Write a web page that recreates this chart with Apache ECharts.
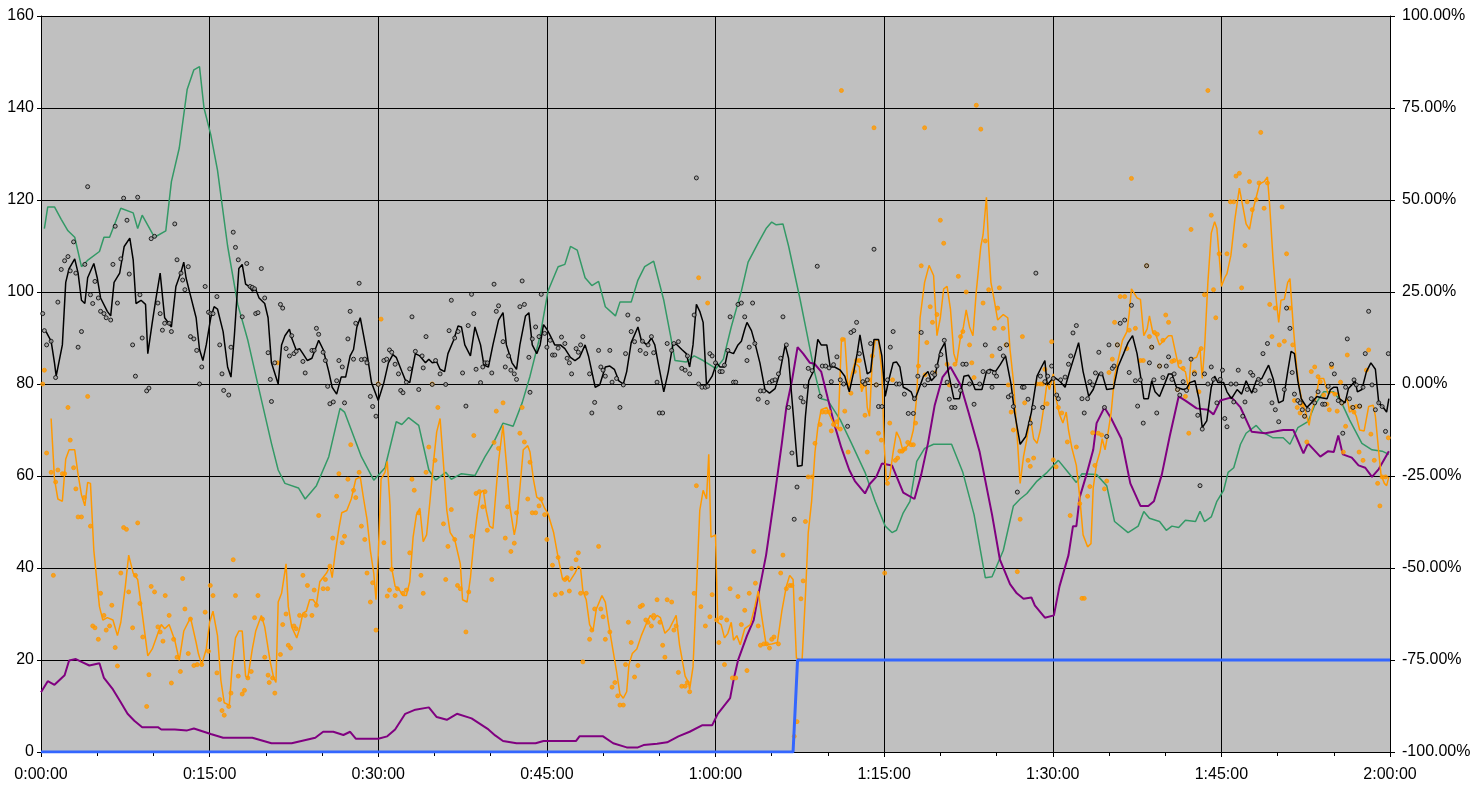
<!DOCTYPE html>
<html>
<head>
<meta charset="utf-8">
<script src="https://cdn.jsdelivr.net/npm/echarts@6/dist/echarts.min.js"></script>
<style>
  html, body { margin: 0; padding: 0; background: #fff; }
  #chart { width: 1478px; height: 793px; }
</style>
</head>
<body>
<div id="chart"></div>
<script>
// time in minutes, values on the left axis (0-160)
const greenLine = [[0.3,113.8],[0.6,118.5],[1.2,118.5],[1.8,115.8],[2.4,113.3],[3.0,111.9],[3.6,105.5],[4.2,107],[5.2,108.8],[5.6,111.9],[6.1,111.9],[7.1,118.2],[8.2,117.2],[8.6,113.8],[9.0,116.7],[10.1,111.9],[11.1,113.3],[11.6,124],[12.3,131.3],[13.0,144],[13.6,148.3],[14.1,149],[14.5,140],[15.1,134.2],[15.7,126.5],[16.6,110],[17.5,97.3],[18.4,89.5],[19.3,79.8],[20.5,67.1],[21.1,61.3],[21.7,58.4],[22.9,57.4],[23.5,55],[24.5,57.9],[25.6,64.2],[26.6,74.7],[27.0,73.9],[28.5,64.2],[29.6,59.1],[30.6,61.8],[31.6,71.8],[32.1,71.2],[32.7,72.7],[33.6,71],[34.5,61.3],[35.1,59.1],[36.0,60.8],[36.5,59.3],[37.4,60.5],[38.6,60.1],[39.5,64.2],[40.2,67],[41.1,71.5],[42.0,70.8],[42.8,75.9],[43.5,81.7],[44.4,90.5],[45.1,100.2],[46.0,105.5],[46.6,106],[47.1,109.9],[47.7,109.1],[48.4,103.1],[49.0,101.4],[49.6,102.3],[50.2,96.8],[51.1,94.8],[51.5,97.8],[52.5,97.8],[53.1,102.6],[53.7,105.5],[54.5,106.7],[55.4,98.2],[56.0,90.5],[56.4,85.1],[57.4,84.8],[58.1,86.1],[58.9,85.1],[59.8,83.7],[60.0,83.2],[60.7,85.4],[61.4,92.4],[62.3,100.2],[62.9,106.5],[63.8,110.7],[64.5,113.8],[65.0,115.2],[65.4,114.6],[66.0,114.8],[66.5,110],[67.5,98.7],[68.1,91.4],[68.8,82.7],[69.4,76.8],[70.0,76.4],[71.1,72.2],[72.1,67.1],[73.3,60.8],[74.2,54.5],[75.1,49.1],[75.7,47.7],[76.1,48.2],[76.7,52],[77.3,54.5],[77.9,63.2],[78.6,66],[79.4,66.9],[81.0,66.9],[82.0,60.8],[83.0,51.6],[84.0,37.9],[84.6,38.1],[85.6,43.8],[86.5,53.5],[87.1,55],[87.7,56.2],[88.6,58.9],[89.5,60.8],[90.5,63.4],[91.2,61.3],[92.1,58.6],[92.6,60.5],[93.9,60.3],[94.8,57.9],[95.5,50.1],[96.7,47.7],[97.6,49.1],[98.1,52.3],[98.6,50.8],[99.5,50.1],[100.1,48.2],[100.6,49.1],[101.2,48.8],[101.8,50.4],[102.7,50.1],[103.1,52.3],[103.5,50.1],[104.1,51.1],[104.6,54.5],[105.2,56.9],[105.6,60.8],[106.1,61.8],[106.7,66.9],[107.2,69.3],[108.1,71],[108.6,69.6],[109.6,68.3],[110.5,68.3],[111.1,66.9],[111.8,70.5],[112.7,71.8],[113.3,75.4],[114.1,78.3],[115.0,78.3],[115.7,75.9],[116.4,72.2],[117.5,67.1],[118.4,65.7],[119.3,65.4],[119.9,64.7]];

const purpleLine = [[0,13],[0.6,15.4],[1.2,14.6],[2.1,16.7],[2.5,19.9],[3.1,20.2],[3.7,19.5],[4.3,18.8],[5.2,19.3],[5.6,16.1],[6.4,13.6],[7.0,11.2],[7.7,8.3],[8.3,6.8],[9.0,5.4],[10.4,5.4],[10.7,4.9],[11.9,4.9],[13.0,4.7],[13.6,5.1],[15.1,3.9],[16.2,3.1],[18.8,3.1],[20.5,1.9],[22.3,1.9],[24.4,3.1],[25.1,4.4],[26.0,4.4],[26.9,3.7],[27.5,4.4],[28.0,2.9],[30.0,2.9],[30.8,3.4],[31.5,4.9],[32.4,8.3],[33.3,9.2],[34.5,9.7],[35.2,7.6],[36.1,7],[37.0,8.3],[38.3,7.3],[39.8,4.9],[40.4,3.6],[41.1,2.4],[42.3,1.9],[44.0,1.9],[44.7,2.4],[45.9,2.4],[47.6,2.4],[47.9,3.4],[50.0,3.4],[50.9,1.9],[52.1,1],[53.1,1],[53.6,1.5],[54.8,1.8],[55.7,2.1],[56.7,3.4],[57.7,4.4],[58.8,5.8],[59.7,5.8],[60.2,8.3],[61.3,11.7],[61.6,15.6],[62.0,19.9],[62.8,25.3],[63.4,28.7],[63.8,34],[64.5,42.8],[65.3,56.4],[65.9,67.1],[66.3,74.9],[66.8,80.7],[67.3,88],[67.8,86.6],[68.4,84.6],[68.8,84.4],[69.4,82.7],[70.0,76.8],[70.6,71],[71.2,66.1],[71.9,61.3],[72.4,58.9],[73.3,56.2],[73.7,58.2],[74.3,59.8],[74.8,62.7],[75.7,62.3],[76.7,56.4],[77.7,55],[78.3,60.3],[78.9,67.1],[79.5,75.4],[80.2,81.5],[80.9,83.7],[81.8,79.8],[82.5,73.9],[83.5,65.2],[84.6,51.6],[85.3,41.8],[86.2,36.5],[86.8,34.5],[87.4,33.3],[88.1,33.6],[88.4,31.9],[89.3,29.2],[90.1,29.7],[90.6,36],[91.4,42.8],[91.8,49.1],[92.1,49.1],[92.4,55.4],[93.0,60.3],[93.6,65.7],[93.9,71.5],[94.6,74.9],[95.2,72.5],[96.1,68.1],[96.9,58.4],[97.8,53.5],[98.5,53.5],[99.0,54.5],[99.7,60.3],[100.4,68.6],[101.2,77.3],[101.8,76.4],[102.8,74.7],[103.8,74.4],[104.3,73.4],[104.9,76.4],[105.9,77.1],[106.7,74.9],[107.7,69.6],[108.9,69.3],[110.5,70],[111.4,70],[112.3,64.9],[112.7,67.1],[113.8,64.2],[114.5,65.4],[115.0,65.2],[115.4,68.8],[115.8,64.7],[116.6,64],[117.2,62.3],[117.8,61.8],[118.4,59.8],[119.0,61.5],[119.9,65.4]];

const blueLine = [[0,0],[66.9,0],[67.3,20],[120,20]];

const blackLine = [[0.45,91.4],[0.9,89.3],[1.2,84.6],[1.35,81.7],[1.9,88.5],[2.2,102.1],[2.5,105.1],[3.0,107.2],[3.3,104.1],[3.6,98.2],[3.9,97.5],[4.15,103.1],[4.7,106.2],[5.0,103.1],[5.3,98.7],[5.9,95.8],[6.2,94.8],[6.5,102.1],[7.0,104.1],[7.4,109.9],[7.9,111.7],[8.2,107],[8.45,97.5],[8.9,98.2],[9.3,97.3],[9.5,86.6],[9.9,93.4],[10.2,98.2],[10.6,104.1],[11.0,94.4],[11.6,92.4],[12.0,101.2],[12.45,104.3],[12.7,106.5],[12.9,103.1],[13.3,99.2],[13.8,94.4],[14.1,87.5],[14.4,85.1],[14.7,88.5],[15.1,94.4],[15.4,96.8],[15.7,96.3],[16.2,91.4],[16.6,83.7],[16.9,81.5],[17.2,90.5],[17.6,105.1],[17.9,106],[18.2,101.7],[18.5,101.2],[18.8,100.2],[19.1,100.6],[19.4,98.7],[19.9,97.5],[20.2,94.4],[20.5,84.6],[21.1,80],[21.4,88.5],[21.7,90.5],[22.1,91.9],[22.3,90],[22.7,87.4],[23.0,87.7],[23.3,86.6],[23.7,85.1],[24.1,85.6],[24.7,89.5],[25.1,87.5],[25.6,82.7],[25.9,79.3],[26.3,77.8],[26.7,81.5],[27.1,81.5],[27.5,86.1],[27.8,87.5],[28.1,92.4],[28.4,94.4],[28.7,90.5],[29.0,86.6],[29.4,80.3],[30.0,76.4],[30.5,80.3],[30.9,84.6],[31.3,86.4],[31.6,85.8],[32.1,82.7],[32.4,80.9],[32.8,80.3],[33.3,86.6],[33.7,86.1],[34.2,84.6],[34.5,85.4],[34.8,84.6],[35.2,84.8],[35.5,83.2],[35.9,82.7],[36.2,86.6],[36.7,89.5],[37.1,92.6],[37.4,92.4],[37.7,88.5],[38.2,86.1],[38.6,92.4],[39.1,88.5],[39.4,84.1],[39.8,83.7],[40.2,88.5],[40.7,93.9],[41.1,95.5],[41.4,88.5],[41.9,84.6],[42.3,83.2],[42.6,88.5],[43.1,94.8],[43.4,95.5],[43.7,88.5],[44.1,86.6],[44.4,88.5],[44.7,92.9],[45.0,91.9],[45.3,90.5],[45.7,88.5],[46.2,88.5],[46.6,87.7],[47.1,85.8],[47.5,85.1],[47.9,85.8],[48.4,88.5],[48.7,86.1],[49.0,82.7],[49.3,79.3],[49.7,79.8],[50.2,83.7],[50.6,83.9],[51.0,83.2],[51.4,80.7],[51.8,80],[52.1,82.7],[52.5,89],[53.1,92.4],[53.4,89.5],[53.9,88.5],[54.3,90],[54.6,88.5],[54.9,84.6],[55.4,78.3],[55.8,82.7],[56.2,88.5],[56.5,88.7],[57.0,87.5],[57.4,86.6],[57.7,83.7],[58.0,88.5],[58.3,97.3],[58.6,95.8],[58.9,93.4],[59.2,79.8],[59.7,81.7],[60.1,84.6],[60.4,83.7],[60.8,83.7],[61.1,87.1],[61.6,86.6],[62.0,88.5],[62.3,89.3],[62.6,91.9],[62.8,93.4],[63.2,91.6],[63.5,89],[63.95,84.6],[64.4,78.8],[64.8,78],[65.3,79],[65.7,82.2],[66.2,88.5],[66.5,85.6],[66.9,73.9],[67.3,62.1],[67.7,62.3],[68.0,73],[68.3,80.7],[68.7,82.7],[69.1,89.7],[69.4,88.5],[69.9,88.5],[70.2,83.7],[70.6,83.7],[71.1,83],[71.5,81.7],[71.9,78.3],[72.3,82.7],[72.6,86.6],[72.85,90.7],[73.1,87.1],[73.5,82.2],[73.8,82.7],[74.1,89.7],[74.5,89.7],[74.8,86.1],[75.1,77.3],[75.4,80.7],[75.8,84.6],[76.1,84.8],[76.4,83.7],[76.7,79.3],[77.1,78.8],[77.4,78.3],[77.7,76.4],[78.0,78.3],[78.5,81.7],[78.9,82.7],[79.2,80.7],[79.5,81.5],[80.0,87.2],[80.4,89],[80.7,82.7],[81.2,76.8],[81.7,76.8],[82.1,81.7],[82.5,81.9],[82.8,80.7],[83.1,78.8],[83.7,78.8],[84.1,82.7],[84.4,83.2],[84.9,82.7],[85.3,84.1],[85.8,86.1],[86.3,79.8],[86.6,73.9],[87.1,66.9],[87.6,68.6],[88.1,73.9],[88.6,81.7],[89.0,83.7],[89.3,85.1],[89.5,79.8],[90.1,81.5],[90.6,80.7],[91.1,79.3],[91.5,82.7],[92.0,86.6],[92.3,89],[92.7,82.7],[93.2,77.3],[93.6,78.8],[94.1,82.2],[94.4,82.2],[94.8,78.8],[95.4,79],[95.8,83.7],[96.3,86.6],[96.7,89],[97.1,90.5],[97.5,86.6],[97.9,80.3],[98.1,76.8],[98.5,76.8],[98.8,80.7],[99.1,78.3],[99.5,77.3],[100.0,80.3],[100.3,82.2],[100.6,82.2],[101.0,79.3],[101.6,78.8],[101.9,79],[102.2,80.3],[102.65,80.7],[103.0,76.8],[103.3,70.5],[103.7,72],[104.1,79.3],[104.4,81.7],[104.7,80.3],[105.2,80.3],[105.5,78.3],[105.9,76.8],[106.4,78.8],[106.8,77.8],[107.2,80.7],[107.7,78],[108.1,80.7],[108.6,81.2],[108.9,82.7],[109.2,84.1],[109.6,81.2],[110.1,75.9],[110.5,76.4],[110.9,82.7],[111.2,87.1],[111.5,86.6],[111.8,80.7],[112.1,76.8],[112.6,74.9],[113.0,75.9],[113.5,77.3],[113.9,77],[114.4,76.8],[114.7,78.8],[115.0,79.3],[115.3,79.3],[115.5,76.8],[116.0,75.9],[116.3,79],[116.6,79.8],[116.9,80.7],[117.1,78.3],[117.5,78.8],[117.9,82.7],[118.3,84.6],[118.7,83.2],[119.0,75.9],[119.4,74.9],[119.7,73.9],[119.9,76.8]];

const orangeLine = [[0.9,72.5],[1.2,59.3],[1.5,55],[1.9,54.5],[2.2,63.7],[2.5,65.7],[3.0,65.7],[3.3,60.3],[3.6,55.9],[3.9,53.5],[4.15,58.6],[4.4,58.4],[4.7,43.8],[5.2,31.6],[5.5,28.7],[5.9,29.2],[6.4,28.7],[6.8,25.3],[7.1,28.2],[7.5,36],[7.8,42.8],[8.2,38.9],[8.6,37.5],[9.0,30.2],[9.5,20.9],[9.9,22.4],[10.4,25.8],[10.7,27.7],[11.0,26.8],[11.4,27.7],[11.9,24.3],[12.3,19.9],[12.7,26.3],[13.3,29.2],[13.8,23.8],[14.0,21.4],[14.3,19],[14.7,22.4],[15.0,28.2],[15.3,30.6],[15.7,25.3],[16.0,15.6],[16.3,10.7],[16.75,10.2],[17.0,18.5],[17.3,24.8],[17.6,26.3],[17.9,26.3],[18.2,16.5],[18.4,16.1],[18.8,22.4],[19.1,26.3],[19.6,29.7],[19.9,27.2],[20.4,19.5],[20.7,16.1],[20.9,15.1],[21.1,32.6],[21.4,34.5],[21.8,40.9],[22.0,31.6],[22.3,27.2],[22.75,24.8],[23.0,26.8],[23.3,30.2],[23.6,30.6],[23.9,33.1],[24.2,33.1],[24.5,32.1],[24.8,37],[25.4,38.9],[25.7,40.4],[25.9,37.9],[26.2,43.8],[26.5,48.6],[26.75,52],[27.2,52.5],[27.6,55],[28.0,59.3],[28.4,59.8],[28.7,55],[29.0,50.6],[29.3,43.8],[29.6,38.9],[29.8,33.1],[30.0,42.8],[30.25,59.3],[30.6,60.8],[30.8,63.2],[31.05,53.5],[31.2,39.9],[31.5,36],[31.8,35.5],[32.2,34],[32.5,34],[32.8,37],[33.1,46.7],[33.4,51.6],[33.7,53],[34.0,45.7],[34.3,47.2],[34.6,54.5],[34.9,62.7],[35.2,69.6],[35.5,72.5],[35.8,62.7],[36.1,52.5],[36.4,47.7],[36.8,46.2],[37.3,40.9],[37.5,33.1],[37.9,32.6],[38.2,37.9],[38.5,45.7],[38.8,51.6],[39.1,56.4],[39.35,56.9],[39.6,52.5],[39.9,49.1],[40.2,48.6],[40.4,54.5],[40.7,63.2],[41.1,71],[41.4,62.7],[41.7,53.5],[42.1,47.2],[42.3,49.6],[42.6,57.4],[42.9,65.7],[43.3,66.6],[43.5,65.2],[43.8,59.3],[44.1,55.4],[44.5,54.7],[44.8,53],[45.1,51.8],[45.6,47.7],[46.0,42.3],[46.4,37.5],[46.8,37.8],[47.0,37],[47.5,38.9],[47.8,40.4],[48.0,39.9],[48.2,35],[48.5,33.1],[48.8,27.7],[49.1,26.3],[49.4,31.1],[49.9,34],[50.2,32.6],[50.5,27.7],[50.8,23.3],[51.2,17.5],[51.5,12.6],[51.8,11.7],[52.1,13.1],[52.3,19],[52.6,21.4],[53.0,22.4],[53.4,25.3],[53.9,28.2],[54.2,29.7],[54.5,28.7],[54.8,29.7],[55.1,29.2],[55.5,25.8],[55.9,26.8],[56.5,29.7],[56.8,23.3],[57.3,16.5],[57.6,15.1],[57.7,13.6],[58.0,18.5],[58.3,35],[58.6,52.5],[58.9,56.9],[59.2,55],[59.4,64.7],[59.6,46.7],[60.0,47.2],[60.2,28.2],[60.5,27.7],[60.8,24.8],[61.1,25.8],[61.4,28.2],[61.6,24.3],[61.9,25.3],[62.2,23.3],[62.6,26.8],[63.1,27.7],[63.5,31.6],[63.8,35],[64.1,29.7],[64.5,23.3],[65.0,23.5],[65.5,23.8],[65.9,30.6],[66.3,36],[66.6,38.4],[66.9,37.5],[67.2,20.4],[67.7,19.9],[68.0,34],[68.25,47.7],[68.55,54.5],[68.85,65.2],[69.1,70.5],[69.4,74.4],[69.9,74.9],[70.2,73],[70.6,71],[70.9,70.2],[71.2,89.5],[71.5,90],[71.8,78.8],[72.1,82.2],[72.4,84.6],[72.8,83.7],[73.0,78.3],[73.35,80.7],[73.5,74.9],[73.7,73],[73.95,85.1],[74.2,89.5],[74.5,89.5],[74.8,82.7],[75.0,67.1],[75.2,58.9],[75.5,59.8],[75.8,65.2],[76.1,69.6],[76.4,68.1],[76.7,65.2],[76.9,66.1],[77.3,67.1],[77.6,70],[77.9,77.3],[78.2,94.4],[78.6,102.1],[79.0,105.8],[79.4,103.6],[79.7,90.5],[80.0,94.4],[80.3,100.7],[80.6,101.2],[80.9,96.3],[81.2,86.6],[81.45,84.6],[81.75,89.5],[82.05,92.4],[82.3,96.1],[82.6,92.4],[82.9,90.5],[83.2,100.2],[83.6,109.9],[83.8,112.4],[84.1,120.6],[84.3,109.9],[84.5,102.1],[84.8,98.2],[85.1,93.9],[85.3,94.4],[85.6,95.1],[86.0,94.4],[86.2,87.5],[86.5,80.7],[86.8,70],[87.1,58.4],[87.4,64.2],[87.7,68.1],[88.0,73],[88.3,68.1],[88.6,67.1],[88.9,70],[89.2,74.9],[89.5,80.5],[89.7,78.8],[90.05,82.2],[90.3,76.8],[90.6,73.4],[90.9,71.5],[91.2,73.9],[91.4,70],[91.7,66.1],[92.1,62.3],[92.4,55.4],[92.7,47.2],[93.1,44.6],[93.4,45.3],[93.6,57.4],[93.9,62.7],[94.2,65.2],[94.4,68.1],[94.65,65.7],[94.9,69.1],[95.2,73.9],[95.5,81.7],[95.9,86.1],[96.2,89.5],[96.6,91.4],[96.8,95.3],[97.0,100.7],[97.5,98.7],[97.8,98.4],[98.1,90.5],[98.4,92],[98.6,94.8],[98.9,91.2],[99.2,90.5],[99.5,88.5],[99.9,89.5],[100.3,90.5],[100.6,90.5],[100.9,87.1],[101.2,83.7],[101.8,82.7],[102.1,78.8],[102.3,85.4],[102.8,85.8],[103.1,87.7],[103.3,81.2],[103.5,87.5],[103.8,102.1],[104.1,112.8],[104.4,115.3],[104.6,113.8],[104.9,105],[105.0,101.2],[105.3,103.1],[105.5,104],[105.85,108],[106.2,115.8],[106.6,122.6],[106.9,118.7],[107.2,114.8],[107.5,113.6],[107.8,117.7],[108.1,120.6],[108.4,123.5],[108.8,124],[109.1,125],[109.3,118.7],[109.6,107],[109.9,97.8],[110.1,93.4],[110.3,98.2],[110.6,98.4],[110.9,102.1],[111.1,102.9],[111.4,92.4],[111.7,83.7],[111.9,79.8],[112.2,75.9],[112.5,73.9],[112.8,71],[113.0,73.9],[113.4,76.8],[113.7,81.2],[114.1,81.2],[114.5,77.8],[114.8,78.3],[115.1,77.8],[115.4,78],[115.7,75.4],[115.9,75.9],[116.2,76.8],[116.4,73.9],[116.7,74.4],[117.0,73],[117.3,70],[117.7,69.8],[118.1,75.1],[118.5,75.4],[118.7,73],[119.0,65.2],[119.2,60.3],[119.5,58.4],[119.7,57.9],[119.9,59.8]];

const blackDots = [[0.15,95.3],[0.3,91.6],[0.5,88.5],[0.9,89.3],[1.3,81.4],[1.5,97.8],[1.8,104.9],[2.1,106.8],[2.4,107.7],[2.6,104.6],[2.9,110.9],[3.1,104.1],[3.3,88],[3.6,91.4],[3.9,106],[4.15,122.9],[4.4,99.4],[4.6,97.5],[4.8,102.3],[5.1,98.7],[5.3,95.8],[5.6,95.3],[5.8,94.4],[6.2,93.9],[6.4,106],[6.6,114.3],[6.8,97.6],[7.1,107.2],[7.35,120.4],[7.65,115.6],[7.85,103.9],[8.15,88.5],[8.4,81.7],[8.6,120.6],[8.8,99.4],[9.0,90],[9.4,78.5],[9.6,79.1],[9.8,111.6],[10.1,112.1],[10.4,97.6],[10.6,95.3],[10.8,91.7],[11.0,93.2],[11.4,93.2],[11.6,91.4],[11.9,114.8],[12.1,107],[12.45,104.1],[12.6,102.6],[12.8,100.5],[13.1,105.5],[13.3,90.3],[13.6,89.8],[13.85,87.3],[14.1,80],[14.3,83.7],[14.6,101.2],[14.9,95.6],[15.1,95.3],[15.3,95.3],[15.65,99],[15.9,88.5],[16.1,82.2],[16.25,78.6],[16.7,77.6],[16.9,88],[17.1,113],[17.3,109.7],[17.55,107],[17.9,94.6],[18.3,106.2],[18.6,101.2],[18.8,101],[19.0,100.7],[19.1,95.3],[19.3,95.5],[19.6,105.1],[19.9,98.7],[20.2,86.8],[20.4,81],[20.5,76.2],[20.8,84.6],[21.3,97.3],[21.5,96.5],[21.8,87.7],[22.1,86.1],[22.3,90.5],[22.5,86.6],[22.7,87.1],[23.3,84.9],[23.5,82.4],[24.1,87.3],[24.3,87.3],[24.5,92.1],[24.7,90.8],[25.1,86.9],[25.3,85.1],[25.5,79.5],[25.7,75.7],[26.0,76.1],[26.3,80.7],[26.5,85.1],[26.8,83.7],[27.0,75.9],[27.3,89.8],[27.5,95.8],[27.8,85.4],[28.0,93.2],[28.3,101.9],[28.5,85.3],[28.8,85.4],[29.0,84.6],[29.3,77.3],[29.5,75.1],[29.8,73],[30.0,79.9],[30.5,85.1],[30.75,85.4],[31.0,87.4],[31.2,86.9],[31.5,84.3],[31.8,82.2],[32.0,78.6],[32.2,78.1],[32.5,80.4],[32.8,83.3],[33.0,94.6],[33.3,87.1],[33.6,78.8],[33.9,86.1],[34.0,83.5],[34.25,90.3],[34.8,79.9],[35.1,85.1],[35.5,82.2],[36.0,79.9],[36.3,91.6],[36.5,98.2],[36.8,90],[37.1,91.4],[37.5,82.4],[37.8,75.2],[38.0,92.7],[38.3,99.5],[38.5,95.3],[38.7,83.2],[39.1,80.3],[39.3,83.7],[39.5,84.6],[39.7,84.6],[40.1,82.4],[40.3,101.7],[40.5,95.8],[40.7,97],[41.1,89.2],[41.3,83.7],[41.6,86.1],[41.8,83],[42.1,82.2],[42.3,81],[42.6,96.8],[42.8,102.4],[43.0,97.3],[43.4,85.8],[43.5,78.2],[43.7,89.8],[44.0,92.4],[44.3,90.3],[44.5,99.5],[44.8,91],[45.0,88],[45.3,89.5],[45.5,86.3],[45.7,86.3],[46.0,87.8],[46.3,90.2],[46.6,88.8],[46.8,85.6],[47.0,84.6],[47.2,82.2],[47.6,87.7],[47.8,86.9],[48.0,88.5],[48.2,90.3],[48.8,82.2],[49.0,73.7],[49.25,76],[49.6,87.3],[49.8,83.7],[50.0,83],[50.2,81.7],[50.6,87.3],[50.8,80.4],[51.2,81.2],[51.5,74.9],[51.8,79.8],[52.0,86.6],[52.2,95],[52.5,91.4],[52.8,89.2],[53.1,94.1],[53.3,87.3],[53.5,89.3],[53.8,86.6],[54.0,88.5],[54.3,90.3],[54.5,86.8],[54.8,80.4],[55.0,73.7],[55.3,73.7],[55.7,88.8],[56.1,87.3],[56.3,88.8],[56.7,89.2],[57.0,83.4],[57.3,83],[57.5,86.1],[57.7,82.2],[58.1,95],[58.3,124.8],[58.5,80],[58.8,79.3],[59.1,79.3],[59.3,79.5],[59.5,86.6],[59.7,86.1],[60.0,84.6],[60.4,82.7],[60.6,82.7],[60.8,84.1],[61.1,87.3],[61.3,94.6],[61.6,80.4],[61.8,80.4],[62.0,97.3],[62.3,97.6],[62.6,94.6],[62.8,85.1],[63.0,88],[63.3,97.6],[63.5,88.8],[63.8,76.7],[64.0,78.5],[64.3,78.5],[64.6,76],[64.8,80.3],[65.05,80.7],[65.3,80.9],[65.6,82.2],[65.8,85.6],[66.0,94.6],[66.3,88.5],[66.5,74.9],[66.8,65],[67.0,50.6],[67.25,57.6],[67.6,77],[67.8,76.1],[68.0,79.5],[68.25,83.4],[68.6,82.9],[69.05,105.6],[69.3,77.3],[69.5,83.9],[69.8,83.9],[70.1,83.5],[70.3,80.5],[70.5,84.2],[70.8,85.9],[71.1,80.9],[71.4,80],[71.75,70.8],[72.05,91.2],[72.3,91.6],[72.55,93.4],[72.8,86.6],[73.1,80.5],[73.3,80],[73.5,80.9],[73.8,88.8],[74.1,109.3],[74.3,79.8],[74.5,75.1],[74.8,75.1],[75.3,80.9],[75.55,88],[75.8,91.4],[76.1,80],[76.35,80],[76.8,77.8],[77.15,73.6],[77.6,73.6],[77.7,76.8],[78.0,81.7],[78.3,91.2],[78.6,79.8],[78.9,80.9],[79.3,82.4],[79.5,82],[79.7,83.9],[80.05,86.4],[80.35,89.5],[80.6,80.4],[80.8,76.7],[81.0,74.9],[81.3,74.9],[81.4,79.6],[81.8,78.6],[82.0,84.3],[82.3,84.3],[82.6,80],[83.0,75.6],[83.5,80],[83.8,82.7],[84.0,88.5],[84.3,82.7],[84.6,79.3],[84.8,82.4],[85.0,81.7],[85.3,87.7],[85.6,86.1],[85.9,88.5],[86.05,77.2],[86.3,77.6],[86.5,75.1],[86.85,56.5],[87.3,79.3],[87.45,79.3],[87.8,76.7],[88.0,71.5],[88.3,74.9],[88.5,104.1],[88.9,81.7],[89.1,74.9],[89.3,80.5],[89.55,81.7],[89.9,83.9],[90.05,81.2],[90.35,77.6],[90.5,76.8],[90.7,80.9],[91.1,81.5],[91.4,84.3],[91.6,86.1],[91.8,91.1],[92.1,92.7],[92.6,76.8],[92.8,73.7],[93.1,76.8],[93.3,80.5],[93.55,79.8],[93.8,82.4],[94.1,86.9],[94.3,82.2],[94.6,74.9],[94.8,68.6],[95.0,88.5],[95.3,83.4],[95.45,83.9],[95.75,88.5],[96.0,93.2],[96.4,93.9],[96.8,82.5],[97.0,97.1],[97.35,80.7],[97.55,75.2],[97.8,80.9],[98.05,71.5],[98.35,105.7],[98.6,84.6],[98.8,88],[99.0,80.9],[99.25,73.7],[99.5,83.9],[99.8,81.4],[100.1,83.9],[100.3,85.9],[100.6,81],[100.8,82.2],[101.1,78.8],[101.3,77.6],[101.6,80.5],[101.9,78.6],[102.3,85.4],[102.6,82.2],[102.9,73.2],[103.1,57.9],[103.3,70.2],[103.5,82.2],[103.8,80],[104.1,83.7],[104.3,81],[104.6,75.9],[104.9,81],[105.1,83],[105.3,72.5],[105.5,70.7],[105.85,80],[106.1,76.1],[106.3,80],[106.5,83],[106.9,73],[107.1,76.1],[107.3,78.8],[107.6,82.5],[107.8,81.9],[108.0,78.6],[108.3,81],[108.5,80],[108.7,86.6],[109.1,88.8],[109.3,80.7],[109.5,75.9],[109.8,74.4],[110.1,71.8],[110.6,78.8],[110.8,96.5],[111.1,92.1],[111.3,82.5],[111.5,77.8],[111.8,76.4],[112.0,75.9],[112.2,74.4],[112.4,73],[112.7,74.4],[113.0,76.8],[113.3,75.9],[113.6,78.3],[114.0,75.6],[114.2,75.6],[114.5,79.5],[114.8,84.3],[115.05,82.2],[115.4,76.4],[115.7,75.9],[115.8,69.3],[116.05,79.3],[116.2,89.8],[116.4,76.8],[116.7,74.9],[116.8,80.9],[117.0,79.8],[117.3,75.2],[117.6,79.3],[117.8,86.6],[118.1,95.8],[118.4,79.8],[118.7,74.4],[119.0,75.9],[119.3,75.1],[119.6,69.7],[119.85,86.6]];

const orangeDots = [[0.15,80],[0.3,83],[0.5,65],[0.9,60.8],[1.1,38.4],[1.3,58.7],[1.5,61.3],[1.9,60.5],[2.1,60.5],[2.4,74.9],[2.6,67.8],[2.9,61.8],[3.1,57.2],[3.3,51.1],[3.6,51.1],[3.85,55.3],[4.15,77.3],[4.4,49.1],[4.6,27.4],[4.8,27],[5.1,24.5],[5.3,34.5],[5.6,29.7],[5.8,26.5],[6.1,27.4],[6.3,31.9],[6.6,22.7],[6.8,18.7],[7.1,38.9],[7.35,48.8],[7.6,48.4],[7.8,34.8],[8.15,27],[8.4,38.4],[8.6,49.8],[8.8,32.3],[9.05,25],[9.4,9.9],[9.6,16.8],[9.8,36],[10.1,34.8],[10.4,27.2],[10.6,26.1],[10.85,24.1],[11.05,34],[11.4,29.7],[11.6,15],[11.8,24.5],[12.1,20.6],[12.4,17.5],[12.6,37.7],[12.8,31.1],[13.1,21.4],[13.3,28.9],[13.6,18.8],[13.9,19],[14.3,19],[14.6,30.4],[14.9,21.9],[15.06,36.2],[15.3,34],[15.65,17.2],[15.9,11.4],[16.1,9],[16.3,8],[16.7,9.9],[16.9,12.8],[17.1,41.8],[17.3,34],[17.55,16.5],[17.9,12.6],[18.1,13.4],[18.4,16.1],[18.7,17.5],[19.0,29.2],[19.3,34],[19.7,28.9],[19.9,20.6],[20.2,16.7],[20.3,15.1],[20.6,16.1],[20.8,12.8],[21.05,84.6],[21.3,21.2],[21.5,27.7],[21.8,30],[22.0,23.2],[22.2,22.6],[22.5,27.4],[22.7,26.8],[23.0,29.7],[23.3,38.4],[23.5,29.7],[23.7,36.2],[24.1,29.7],[24.3,35.2],[24.5,31.9],[24.7,51.4],[25.1,35.5],[25.3,37.5],[25.5,35.5],[25.7,40.4],[25.95,46.5],[26.3,55.6],[26.5,60.5],[26.8,45.5],[27.0,46.9],[27.3,59.3],[27.55,66.8],[27.8,56.9],[28.0,55.3],[28.3,60.8],[28.5,49.1],[28.8,46.2],[29.0,38.9],[29.3,32.6],[29.5,36.8],[29.8,26.5],[30.0,80],[30.25,94.1],[30.5,45.5],[30.8,33.9],[31.0,35.2],[31.2,39.7],[31.5,34],[31.7,35.5],[32.0,31.6],[32.2,34.5],[32.5,35.2],[32.8,43.3],[33.0,59.3],[33.2,56.9],[33.6,52],[33.8,38.4],[34.0,34.5],[34.25,60.8],[34.5,66.3],[34.8,80],[35.05,63.4],[35.3,74.9],[35.8,49.6],[36.0,37.5],[36.2,44.7],[36.5,52.7],[36.8,46.2],[37.05,36.2],[37.3,35.5],[37.8,26.1],[38.05,34.8],[38.3,46.9],[38.5,68.8],[38.7,56.2],[39.0,56.6],[39.3,53.3],[39.5,56.6],[39.7,48.2],[40.1,37.5],[40.3,67.3],[40.5,74.1],[40.7,66],[41.1,75.9],[41.3,46.5],[41.5,53.3],[41.8,43.6],[42.1,45.4],[42.3,52],[42.6,69.3],[42.8,74.9],[43.0,67.4],[43.3,55],[43.5,63],[43.7,52],[44.0,52],[44.3,53.5],[44.5,55],[44.8,51.6],[45.0,46.2],[45.5,40.6],[45.75,34.2],[46.0,42.3],[46.3,34.5],[46.6,37.5],[46.8,37.9],[47.0,35],[47.2,39.9],[47.6,41.8],[47.8,43.3],[48.0,34.5],[48.2,19.6],[48.5,34.5],[48.8,24.5],[49.0,26.5],[49.25,31.1],[49.6,44.7],[49.8,31.1],[50.0,29.4],[50.2,24.5],[50.6,26.1],[50.8,14.1],[51.05,15.1],[51.3,12.2],[51.5,10.2],[51.8,10.2],[52.0,19],[52.25,28.2],[52.5,23.8],[52.8,16.3],[53.1,18.8],[53.3,31.6],[53.5,31.9],[53.8,28.7],[54.0,28.2],[54.3,27.4],[54.5,29.7],[54.8,33.1],[55.06,28.2],[55.3,23.2],[55.5,20.6],[55.7,33.1],[56.1,32.6],[56.3,26.5],[56.5,27.4],[56.7,17.3],[57.0,14.3],[57.3,14.3],[57.5,15.1],[57.7,13.1],[58.1,34.5],[58.3,57.9],[58.5,103.1],[58.7,31.6],[59.1,27.4],[59.3,97.6],[59.5,29.4],[59.7,34.2],[60.1,28.7],[60.3,23.8],[60.5,29.2],[60.8,19],[61.0,28.7],[61.3,35.5],[61.5,16.1],[61.8,16.1],[62.0,33.8],[62.3,27.7],[62.6,30.8],[62.8,17.7],[63.0,34.5],[63.4,43.6],[63.55,36.7],[63.8,27.4],[64.0,23.2],[64.3,23.5],[64.55,23.5],[64.8,22.6],[65.0,24.5],[65.2,25],[65.6,23.5],[65.8,38.9],[66.0,42.8],[66.3,35.5],[66.6,36.2],[66.8,36.2],[67.0,3.4],[67.25,6.6],[67.6,33.3],[67.8,37.2],[68.0,50.1],[68.25,59.8],[68.6,59.8],[68.85,67.1],[69.3,71.2],[69.5,73.9],[69.8,73.9],[70.1,73.9],[70.3,69.8],[70.5,71.2],[70.8,71.8],[71.1,70.2],[71.2,143.8],[71.3,89.7],[71.5,74.1],[71.8,65.2],[72.05,78],[72.35,82.7],[72.55,85.1],[72.8,85.1],[73.05,79.5],[73.3,73.2],[73.5,65.2],[73.7,80.9],[73.95,86.1],[74.1,135.7],[74.3,79.8],[74.5,69.3],[74.75,67.8],[75.05,38.9],[75.3,58.4],[75.5,71.5],[75.75,80.9],[76.0,63.4],[76.2,63.9],[76.4,65.4],[76.6,65.4],[76.85,65.9],[77.1,67.3],[77.4,66.8],[77.6,66.8],[77.8,71.5],[78.05,83.9],[78.3,105.7],[78.6,135.7],[78.65,82],[78.8,89],[79.1,96.8],[79.3,93.4],[79.5,82.4],[79.7,95.1],[80.0,115.6],[80.3,110.6],[80.6,84.3],[80.8,79.8],[81.3,84.3],[81.6,103.4],[81.8,90.3],[82.0,91.4],[82.3,100],[82.6,88.5],[82.8,84.6],[83.0,81.4],[83.2,140.6],[83.6,135.4],[83.8,97.6],[84.0,111.1],[84.3,100.5],[84.6,86.1],[84.8,92.1],[85.1,96.5],[85.25,100.9],[85.6,92.1],[85.85,88.5],[86.05,79.8],[86.3,73.9],[86.5,70],[86.85,39.2],[87.1,50.6],[87.3,90.3],[87.5,75.9],[87.8,63.4],[88.0,62.1],[88.3,63.9],[88.6,80],[88.9,80],[89.1,80],[89.3,83.2],[89.5,75.7],[89.9,89.2],[90.05,63.5],[90.3,62],[90.5,74.9],[90.8,73.7],[91.3,67.4],[91.55,51.4],[92.1,66.3],[92.4,54],[92.6,33.4],[92.8,33.4],[93.1,55.6],[93.3,57.7],[93.55,69.4],[93.75,62.3],[94.05,69.3],[94.35,68.9],[94.6,57.2],[94.8,58.9],[95.0,82.5],[95.3,85.4],[95.5,93.4],[95.75,88.5],[96.0,99],[96.4,99],[96.6,87.7],[96.8,91.7],[97.0,124.7],[97.35,92.1],[97.8,85.1],[98.05,85.1],[98.35,105.7],[98.6,90.3],[98.8,88],[99.05,91.2],[99.3,90.8],[99.5,83.9],[99.8,89.5],[100.05,95],[100.3,93.4],[100.6,84.9],[100.8,85.1],[101.1,78.8],[101.3,84.8],[101.6,83.4],[101.8,77.3],[102.1,69.3],[102.3,113.6],[102.6,82.6],[103.0,78.3],[103.2,87.7],[103.5,99.4],[103.8,143.8],[104.1,116.7],[104.3,100.5],[104.5,94.4],[104.8,108.3],[105.5,108.3],[105.8,119.6],[106.1,119.6],[106.3,125.2],[106.6,125.8],[106.8,100.9],[107.1,110.1],[107.3,119.6],[107.5,124],[107.75,117.9],[108.1,120.1],[108.35,123.7],[108.5,134.7],[108.8,118.2],[109.1,123.7],[109.3,97.3],[109.5,90.3],[109.8,96.5],[110.15,88.5],[110.4,118.5],[110.6,89.3],[110.8,108.3],[111.1,96.5],[111.35,88.5],[111.5,76.4],[111.75,74.9],[112.0,73.7],[112.2,75.4],[112.4,73],[112.6,67.4],[113.0,82.7],[113.3,83.7],[113.6,81.6],[113.8,80.5],[114.1,77.6],[114.4,75.6],[114.6,74.4],[114.8,83.7],[115.1,77.8],[115.3,74.1],[115.6,80.4],[115.85,65.2],[116.05,70.8],[116.2,86.3],[116.6,74.9],[116.8,73.9],[117.0,75.1],[117.25,65.2],[117.3,75.1],[117.6,63.4],[117.9,83],[118.1,87.4],[118.3,69.1],[118.6,63.4],[118.9,58.4],[119.1,53.5],[119.3,59.8],[119.6,59.8],[119.85,68.3]];

function timeLabel(v) {
  const h = Math.floor(v / 60), m = Math.round(v % 60);
  return h + ':' + String(m).padStart(2, '0') + ':00';
}

const font = '"Liberation Sans", Arial, sans-serif';
const chart = echarts.init(document.getElementById('chart'));

function lineSeries(data, color, width, z) {
  return { type: 'line', data: data, showSymbol: false, symbol: 'none', z: z,
           lineStyle: { color: color, width: width }, itemStyle: { color: color } };
}
function dotSeries(data, fill, border, z) {
  return { type: 'scatter', data: data, symbol: 'circle', symbolSize: 4, z: z,
           itemStyle: { color: fill, borderColor: border, borderWidth: 1 } };
}

chart.setOption({
  animation: false,
  backgroundColor: '#ffffff',
  grid: { left: 41, right: 88, top: 16, bottom: 41, show: true, backgroundColor: '#C0C0C0', borderWidth: 0 },
  xAxis: {
    type: 'value', min: 0, max: 120, interval: 15,
    axisLine: { show: true, lineStyle: { color: '#000', width: 1 } },
    axisTick: { show: true, length: 5, lineStyle: { color: '#000' } },
    minorTick: { show: true, splitNumber: 3, length: 4, lineStyle: { color: '#000' } },
    splitLine: { show: true, lineStyle: { color: '#000', width: 1 } },
    axisLabel: { formatter: timeLabel, color: '#000', fontFamily: font, fontSize: 16, margin: 15 }
  },
  yAxis: [{
    type: 'value', min: 0, max: 160, interval: 20,
    axisLine: { show: true, lineStyle: { color: '#000', width: 1 } },
    axisTick: { show: true, length: 4, lineStyle: { color: '#000' } },
    splitLine: { show: true, lineStyle: { color: '#000', width: 1 } },
    axisLabel: { color: '#000', fontFamily: font, fontSize: 16, margin: 7 }
  }, {
    type: 'value', min: -100, max: 100, interval: 25, position: 'right',
    axisLine: { show: true, lineStyle: { color: '#000', width: 1 } },
    axisTick: { show: true, length: 5, lineStyle: { color: '#000' } },
    splitLine: { show: false },
    axisLabel: { formatter: v => v.toFixed(2) + '%', color: '#000', fontFamily: font, fontSize: 16, margin: 12 }
  }],
  series: [
    lineSeries(greenLine, '#339966', 1.5, 2),
    lineSeries(purpleLine, '#800080', 2, 3),
    lineSeries(orangeLine, '#FF9900', 1.5, 4),
    dotSeries(orangeDots, '#FF9900', '#FF9900', 5),
    lineSeries(blackLine, '#000000', 1.5, 6),
    dotSeries(blackDots, '#A0A0A0', '#000000', 7),
    lineSeries(blueLine, '#3366FF', 3, 8)
  ]
});
</script>
</body>
</html>
